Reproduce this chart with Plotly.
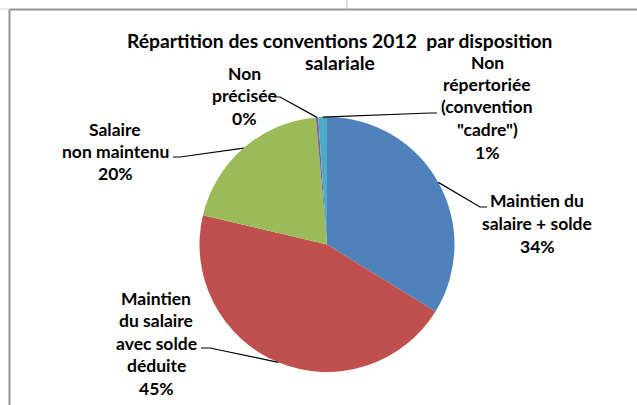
import math
import plotly.graph_objects as go

W, H = 637, 405

# Data: share of 2012 conventions by salary provision (%)
categories = [
    "Maintien du salaire + solde",
    "Maintien du salaire avec solde déduite",
    "Salaire non maintenu",
    "Non précisée",
    "Non répertoriée (convention \"cadre\")",
]
shares = [33.8, 44.9, 19.9, 0.3, 1.1]
label_lines = [
    ["Maintien du", "salaire + solde"],
    ["Maintien", "du salaire", "avec solde", "déduite"],
    ["Salaire", "non maintenu"],
    ["Non", "précisée"],
    ["Non", "répertoriée", "(convention", "\"cadre\")"],
]
colors = ["#4F81BD", "#C0504D", "#9BBB59", "#8064A2", "#4BACC6"]

title_lines = ["Répartition des conventions 2012  par disposition", "salariale"]

# Pie geometry in pixels
CX, CY, R = 327.0, 244.5, 127.5

# Label placement: text centre x, first line y, and leader elbow points
label_pos = [
    (537, 201, [(480, 207), (487, 207)]),
    (156, 298, [(210, 348), (201, 348)]),
    (115, 129, [(180, 157), (173, 157)]),
    (244, 73, [(280, 97), (274, 97)]),
    (487, 62, [(430, 113), (437, 113)]),
]
LINE_STEP = 22.5
FONT = "Lato, 'Open Sans', sans-serif"


def px(x, y):
    return x / W, 1 - y / H


dom_x = [(CX - R) / W, (CX + R) / W]
dom_y = [1 - (CY + R) / H, 1 - (CY - R) / H]

fig = go.Figure(
    go.Pie(
        labels=categories,
        values=shares,
        sort=False,
        direction="clockwise",
        rotation=0,
        marker=dict(colors=colors, line=dict(width=0)),
        textinfo="none",
        hoverinfo="label+percent",
        domain=dict(x=dom_x, y=dom_y),
        showlegend=False,
    )
)

total = sum(shares)
annotations = []
shapes = []
cum = 0.0
for i, v in enumerate(shares):
    mid = (cum + v / 2) / total * 2 * math.pi
    cum += v
    ex = CX + R * math.sin(mid)
    ey = CY - R * math.cos(mid)
    tx, ty, elbow = label_pos[i]
    pts = [(ex, ey)] + elbow
    path = "M " + " L ".join(f"{px(a, b)[0]:.5f},{px(a, b)[1]:.5f}" for a, b in pts)
    shapes.append(dict(type="path", path=path, xref="paper", yref="paper",
                       line=dict(color="black", width=1.2)))
    lines = label_lines[i] + [f"{round(v / total * 100)}%"]
    for k, s in enumerate(lines):
        x, y = px(tx, ty + k * LINE_STEP)
        annotations.append(dict(text=f"<b>{s}</b>", x=x, y=y, xref="paper", yref="paper",
                                showarrow=False, xanchor="center", yanchor="middle",
                                font=dict(family=FONT, size=17.5, color="black")))

for k, s in enumerate(title_lines):
    x, y = px(340, 41 + k * 21)
    annotations.append(dict(text=f"<b>{s}</b>", x=x, y=y, xref="paper", yref="paper",
                            showarrow=False, xanchor="center", yanchor="middle",
                            font=dict(family=FONT, size=19.3, color="black")))

# Chart frame
frame_col = "#969696"
for (x0, y0, x1, y1, c, w) in [
    (9.5, 9.5, W, 9.5, frame_col, 2),
    (9.5, 9.5, 9.5, H, frame_col, 2),
    (0, 9, 9, 9, "#D9D9D9", 1),
    (347, 0, 347, 9, "#BFBFBF", 1),
]:
    a = px(x0, y0)
    b = px(x1, y1)
    shapes.append(dict(type="line", x0=a[0], y0=a[1], x1=b[0], y1=b[1],
                       xref="paper", yref="paper", line=dict(color=c, width=w)))

fig.update_layout(
    width=W, height=H,
    margin=dict(l=0, r=0, t=0, b=0),
    paper_bgcolor="white",
    plot_bgcolor="white",
    annotations=annotations,
    shapes=shapes,
)

fig.write_html("out.html")
